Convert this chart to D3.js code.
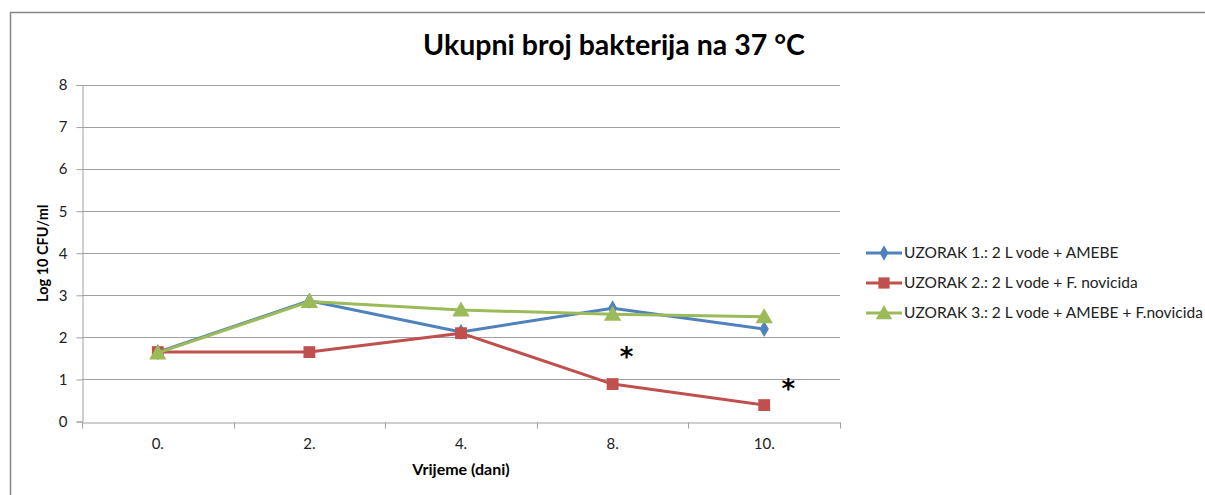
<!DOCTYPE html>
<html>
<head>
<meta charset="utf-8">
<script src="https://cdn.jsdelivr.net/npm/d3@7"></script>
<style>
  html, body { margin: 0; padding: 0; background: #fff; }
  svg text { font-family: Lato, "Open Sans", sans-serif; }
</style>
</head>
<body>
<svg id="chart" width="1205" height="495"></svg>
<script>
// Sampling days and measured counts (log10 CFU/ml)
const categories = ["0.", "2.", "4.", "8.", "10."];
const seriesNames = [
  "UZORAK 1.: 2 L vode + AMEBE",
  "UZORAK 2.: 2 L vode + F. novicida",
  "UZORAK 3.: 2 L vode + AMEBE + F.novicida"
];
const uzorak1 = [1.65, 2.87, 2.13, 2.69, 2.20];
const uzorak2 = [1.65, 1.65, 2.10, 0.89, 0.39];
const uzorak3 = [1.63, 2.85, 2.65, 2.55, 2.49];
const yTicks = [0, 1, 2, 3, 4, 5, 6, 7, 8];
// Significance marks: day and level they sit at
const marks = [
  { day: "8.", level: 1.54 },
  { day: "10.", level: 0.78 }
];

const colors = ["#4F81BD", "#C0504D", "#9BBB59"];
const shapes = [d3.symbolDiamond, d3.symbolSquare, d3.symbolTriangle];
const shapeSizes = [75, 140, 130];
const series = [uzorak1, uzorak2, uzorak3].map((v, i) => ({
  name: seriesNames[i], values: v, color: colors[i], shape: shapes[i], size: shapeSizes[i]
}));

const svg = d3.select("#chart");

// outer chart frame
svg.append("rect")
  .attr("x", 10.5).attr("y", 12.5)
  .attr("width", 1204).attr("height", 500)
  .attr("fill", "#fff").attr("stroke", "#868686").attr("stroke-width", 1.5);

const plot = { left: 82, right: 840, top: 85, bottom: 421.5 };

const x = d3.scaleBand().domain(categories).range([plot.left, plot.right]);
const y = d3.scaleLinear().domain([0, 8]).range([plot.bottom, plot.top]);
const cx = c => x(c) + x.bandwidth() / 2;

// horizontal gridlines
svg.append("g")
  .selectAll("line")
  .data(yTicks.filter(t => t > 0))
  .join("line")
  .attr("x1", plot.left).attr("x2", plot.right)
  .attr("y1", d => Math.round(y(d)) + 0.5).attr("y2", d => Math.round(y(d)) + 0.5)
  .attr("stroke", "#a0a0a0").attr("stroke-width", 1);

// y axis
const yAxis = svg.append("g")
  .attr("transform", `translate(${plot.left + 0.5},0)`)
  .call(d3.axisLeft(y).tickValues(yTicks).tickSize(6).tickPadding(9));
yAxis.select(".domain").attr("stroke", "#a0a0a0");
yAxis.selectAll(".tick line").attr("stroke", "#a0a0a0");
yAxis.selectAll(".tick text")
  .attr("font-size", 15).attr("fill", "#222").style("font-family", "Lato, sans-serif");

// x axis: labels centred on days, tick marks at band edges
const xAxis = svg.append("g")
  .attr("transform", `translate(0,${Math.round(plot.bottom) + 0.5})`)
  .call(d3.axisBottom(x).tickSize(0).tickPadding(16));
xAxis.select(".domain").attr("stroke", "#a0a0a0");
xAxis.selectAll(".tick text")
  .attr("font-size", 15).attr("fill", "#222").style("font-family", "Lato, sans-serif");
const edges = categories.map(c => x(c)).concat([x(categories[categories.length - 1]) + x.bandwidth()]);
xAxis.selectAll(".edge")
  .data(edges)
  .join("line")
  .attr("class", "edge")
  .attr("x1", d => Math.round(d) + 0.5).attr("x2", d => Math.round(d) + 0.5)
  .attr("y1", 0).attr("y2", 6)
  .attr("stroke", "#a0a0a0");

// series lines and markers
const line = d3.line().x((d, i) => cx(categories[i])).y(d => y(d));
series.forEach(s => {
  const g = svg.append("g");
  g.append("path")
    .attr("d", line(s.values))
    .attr("fill", "none").attr("stroke", s.color).attr("stroke-width", 3)
    .attr("stroke-linejoin", "round");
  g.selectAll("path.m")
    .data(s.values)
    .join("path")
    .attr("class", "m")
    .attr("d", d3.symbol().type(s.shape).size(s.size))
    .attr("transform", (d, i) => `translate(${cx(categories[i])},${y(d) + (s.shape === d3.symbolTriangle ? 1.5 : 0)})`)
    .attr("fill", s.color);
});

// significance asterisks
svg.append("g")
  .selectAll("text")
  .data(marks)
  .join("text")
  .attr("x", (d, i) => cx(d.day) + (i === 0 ? 14 : 24))
  .attr("y", d => y(d.level) + 9)
  .attr("text-anchor", "middle")
  .attr("font-size", 26).attr("font-weight", "bold").attr("fill", "#000")
  .style("font-family", "'DejaVu Sans', sans-serif")
  .text("*");

// title
svg.append("text")
  .attr("x", 614).attr("y", 55)
  .attr("text-anchor", "middle")
  .attr("font-size", 28.5).attr("font-weight", "bold").attr("fill", "#000")
  .text("Ukupni broj bakterija na 37 °C");

// axis titles
svg.append("text")
  .attr("transform", `translate(48,${(plot.top + plot.bottom) / 2}) rotate(-90)`)
  .attr("text-anchor", "middle")
  .attr("font-size", 14.5).attr("font-weight", "bold").attr("fill", "#000")
  .text("Log 10 CFU/ml");
svg.append("text")
  .attr("x", (plot.left + plot.right) / 2).attr("y", 475)
  .attr("text-anchor", "middle")
  .attr("font-size", 16).attr("font-weight", "bold").attr("fill", "#000")
  .text("Vrijeme (dani)");

// legend
const legend = svg.append("g").attr("transform", "translate(866,253)");
const rows = legend.selectAll("g")
  .data(series)
  .join("g")
  .attr("transform", (d, i) => `translate(0,${i * 30})`);
rows.append("line")
  .attr("x1", 0).attr("x2", 36).attr("y1", 0).attr("y2", 0)
  .attr("stroke", d => d.color).attr("stroke-width", 3);
rows.append("path")
  .attr("d", d => d3.symbol().type(d.shape).size(d.size * 0.9)())
  .attr("transform", d => `translate(18,${d.shape === d3.symbolTriangle ? 1.5 : 0})`)
  .attr("fill", d => d.color);
rows.append("text")
  .attr("x", 38).attr("y", 0).attr("dy", "0.35em")
  .attr("font-size", 15.5).attr("fill", "#222")
  .text(d => d.name);
</script>
</body>
</html>
